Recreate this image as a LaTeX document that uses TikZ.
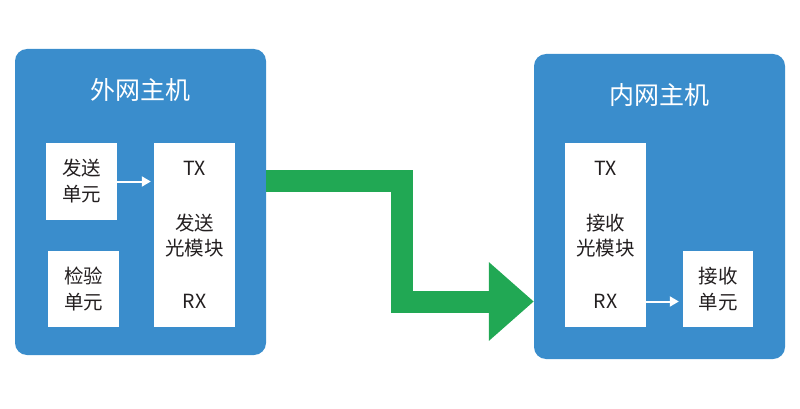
\documentclass[tikz,border=0pt]{standalone}
\usepackage{fontspec}
\setmainfont{Noto Sans CJK SC}
\usetikzlibrary{arrows.meta}
\definecolor{hostblue}{RGB}{58,141,204}
\definecolor{linkgreen}{RGB}{33,168,84}
\definecolor{txtdark}{RGB}{35,31,32}
\tikzset{
  outerbox/.style={fill=hostblue, draw=none, rounded corners=12pt, inner sep=0pt},
  hosttitle/.style={text=white, font=\fontsize{25pt}{30pt}\selectfont, inner sep=0pt},
  whitebox/.style={fill=white, draw=none, inner sep=0pt, align=center, text=txtdark,
    font=\fontsize{19.5pt}{26pt}\selectfont},
  boxtext/.style={inner sep=0pt, align=center, text=txtdark, font=\fontsize{19.5pt}{25pt}\selectfont},
  whitearrow/.style={draw=white, line width=2pt, -{Triangle[length=9pt,width=10pt]}},
  greenarrow/.style={draw=linkgreen, line width=22pt, line join=miter, -{Triangle[length=45pt,width=76pt]}},
}
\begin{document}
\begin{tikzpicture}[x=1pt,y=-1pt]
\useasboundingbox (0,0) rectangle (800,409);
% hosts
\node[outerbox, minimum width=251pt, minimum height=306pt] (L) at (140.5,202) {};
\node[outerbox, minimum width=251pt, minimum height=305pt] (R) at (659.5,206.5) {};
\node[hosttitle] (Lt) at (140.5,90) {外网主机};
\node[hosttitle] (Rt) at (659.5,95) {内网主机};
% left inner
\node[whitebox, minimum width=71pt, minimum height=77pt] (sendu) at (81.5,181.5) {发送\\单元};
\node[whitebox, minimum width=71pt, minimum height=76pt] (checku) at (83.5,289) {检验\\单元};
\node[whitebox, minimum width=81pt, minimum height=184pt] (lmod) at (194.5,235) {};
\node[boxtext] (ltx) at (194.5,168) {TX};
\node[boxtext] (lname) at (194.5,235.5) {发送\\光模块};
\node[boxtext] (lrx) at (194.5,301) {RX};
% right inner
\node[whitebox, minimum width=81pt, minimum height=184pt] (rmod) at (605.5,235) {};
\node[boxtext] (rtx) at (605.5,168) {TX};
\node[boxtext] (rname) at (605.5,235.5) {接收\\光模块};
\node[boxtext] (rrx) at (605.5,301) {RX};
\node[whitebox, minimum width=70pt, minimum height=76pt] (recvu) at (718,289) {接收\\单元};
% small arrows
\draw[whitearrow, shorten >=3pt] (sendu.east) -- (sendu.east -| lmod.west);
\coordinate (rstart) at (rmod.east |- 0,301.5);
\draw[whitearrow, shorten >=4pt] (rstart) -- (rstart -| recvu.west);
% green link arrow
\coordinate (gs) at (L.east |- 0,181);
\coordinate (ge) at (R.west |- 0,301.5);
\draw[greenarrow] (gs) -| (401.5,301.5) -- (ge);
\end{tikzpicture}
\end{document}
